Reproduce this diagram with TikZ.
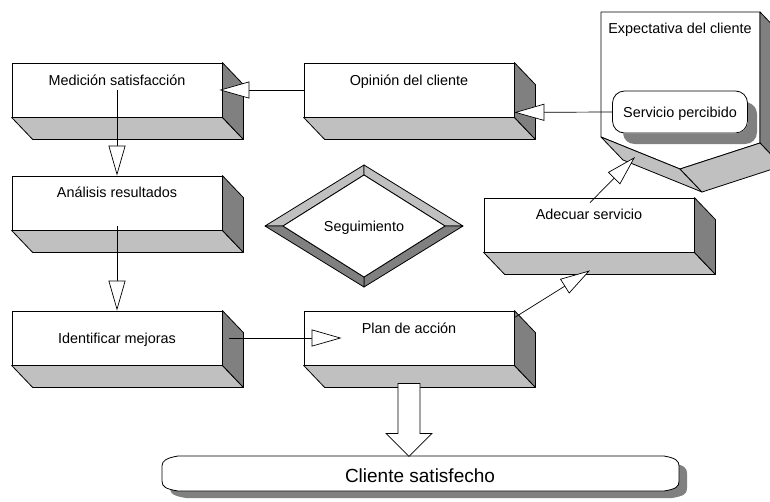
\documentclass[tikz,border=0pt]{standalone}
\usepackage{fontspec}
\setmainfont{Liberation Sans}
\usetikzlibrary{arrows.meta,calc}
\definecolor{facelight}{HTML}{C0C0C0}
\definecolor{facedark}{HTML}{808080}
\tikzset{
  stepbox/.style={draw, fill=white, minimum width=210pt, minimum height=54pt, inner sep=0pt, line width=0.8pt},
  lbl/.style={font=\fontsize{14.4}{16}\selectfont, anchor=base, inner sep=0pt},
  hollow/.style={line width=0.7pt, -{Triangle[length=30pt,width=17pt,fill=white]}},
  facel/.style={fill=facelight, draw, line width=0.8pt, line join=round},
  faced/.style={fill=facedark, draw, line width=0.8pt, line join=round},
}
% bottom and right faces of an extruded box
\newcommand\extrudebox[1]{%
  \filldraw[facel] (#1.south west) -- (#1.south east) -- ++(21,22) -- ($(#1.south west)+(21,22)$) -- cycle;
  \filldraw[faced] (#1.north east) -- ++(21,22) -- ($(#1.south east)+(21,22)$) -- (#1.south east) -- cycle;}
\begin{document}
\begin{tikzpicture}[x=1pt,y=-1pt]
\useasboundingbox (0,0) rectangle (770,501);
\clip (0,0) rectangle (770,501);

% process boxes
\node[stepbox] (med) at (117,90) {};
\node[stepbox] (ana) at (117,203) {};
\node[stepbox] (idf) at (117,338) {};
\node[stepbox] (opi) at (409,90) {};
\node[stepbox] (plan) at (409,338) {};
\node[stepbox] (ade) at (589,225) {};
\foreach \b in {med,ana,idf,opi,plan,ade} {\extrudebox{\b}}

\node[lbl] (medt) at ($(med.north)+(0,23)$) {Medición satisfacción};
\node[lbl] (anat) at ($(ana.north)+(0,22)$) {Análisis resultados};
\node[lbl] (idft) at ($(idf.center)+(0,5)$) {Identificar mejoras};
\node[lbl] (opit) at ($(opi.north)+(0,23)$) {Opinión del cliente};
\node[lbl] (plant) at ($(plan.north)+(0,23)$) {Plan de acción};
\node[lbl] (adet) at ($(ade.north)+(0,22)$) {Adecuar servicio};

% client expectation (off-page shape with depth)
\filldraw[fill=white, line width=0.8pt, line join=round] (601,12) -- (760,12) -- (760,143) -- (680,169) -- (601,137) -- cycle;
\filldraw[faced] (760,12) -- (782,35) -- (782,166) -- (760,143) -- cycle;
\filldraw[facel] (601,137) -- (680,169) -- (702,192) -- (623,160) -- cycle;
\filldraw[facel] (680,169) -- (760,143) -- (782,166) -- (702,192) -- cycle;
\node[lbl] (expt) at (680,33) {Expectativa del cliente};
\coordinate (exptip) at (635,157);

% perceived service: rounded box, then the visible part of its shadow
\node[draw, fill=white, line width=0.8pt, rounded corners=12pt, minimum width=135pt, minimum height=42pt, inner sep=0pt] (serv) at (680,112) {};
\fill[facedark] (748,102.5) .. controls (753,104) and (757,108) .. (757,114) -- (757,132) .. controls (757,139) and (752,144) .. (745,144) -- (635,144) .. controls (628,144) and (624,140) .. (623,133.4) -- (735.5,133.4) .. controls (742.5,133.4) and (748,128) .. (748,121) -- cycle;
\node[lbl] (servt) at ($(serv.center)+(0,5)$) {Servicio percibido};

% follow-up diamond with bevel
\coordinate (dc) at (364,226);
\filldraw[facel] ($(dc)+(-99,0)$) -- ($(dc)+(0,-61)$) -- ($(dc)+(0,-51)$) -- ($(dc)+(-81,0)$) -- cycle;
\filldraw[facel] ($(dc)+(0,-61)$) -- ($(dc)+(99,0)$) -- ($(dc)+(81,0)$) -- ($(dc)+(0,-51)$) -- cycle;
\filldraw[faced] ($(dc)+(99,0)$) -- ($(dc)+(0,61)$) -- ($(dc)+(0,51)$) -- ($(dc)+(81,0)$) -- cycle;
\filldraw[faced] ($(dc)+(0,61)$) -- ($(dc)+(-99,0)$) -- ($(dc)+(-81,0)$) -- ($(dc)+(0,51)$) -- cycle;
\filldraw[fill=white, line width=0.8pt] ($(dc)+(-81,0)$) -- ($(dc)+(0,-51)$) -- ($(dc)+(81,0)$) -- ($(dc)+(0,51)$) -- cycle;
\node[lbl] (seg) at ($(dc)+(0,5)$) {Seguimiento};

% satisfied client banner with shadow
\fill[facedark] (186,463) -- (672,463) .. controls (684,465) and (687,468) .. (687,473) -- (687,488) .. controls (687,494) and (684,496) .. (672,498) -- (186,498) .. controls (174,496) and (170,494) .. (170,488) -- (170,473) .. controls (170,468) and (174,465) .. (186,463) -- cycle;
\filldraw[fill=white, line width=0.8pt] (178,456) -- (664,456) .. controls (676,458) and (679,461) .. (679,466) -- (679,481) .. controls (679,487) and (676,489) .. (664,491) -- (178,491) .. controls (166,489) and (162,487) .. (162,481) -- (162,466) .. controls (162,461) and (166,458) .. (178,456) -- cycle;
\node[lbl, font=\fontsize{19}{22}\selectfont] (cli) at (420,482) {Cliente satisfecho};

% connectors
\draw[hollow] (opi.west) -- ($(med.east)+(-3,0)$);
\draw[hollow] (serv.west) -- ($(opi.south east)+(0,-5)$);
\draw[hollow] (med.center) -- (ana.north);
\draw[hollow] ($(ana.south)+(0,-4)$) -- (idf.north);
\draw[hollow] ($(idf.east)+(7,0)$) -- ($(plan.west)+(38,0)$);
\draw[hollow] ($(plan.north east)+(0,7)$) -- ($(ade.south)+(1,18)$);
\draw[hollow] ($(ade.north)+(1,5)$) -- (exptip);

% block arrow to the banner
\filldraw[fill=white, line width=0.8pt, line join=miter] ($(plan.south)+(-11,18)$) -- ++(22,0) -- ++(0,50) -- ++(12,0) -- ++(-23,23) -- ++(-23,-23) -- ++(12,0) -- cycle;
\end{tikzpicture}
\end{document}
